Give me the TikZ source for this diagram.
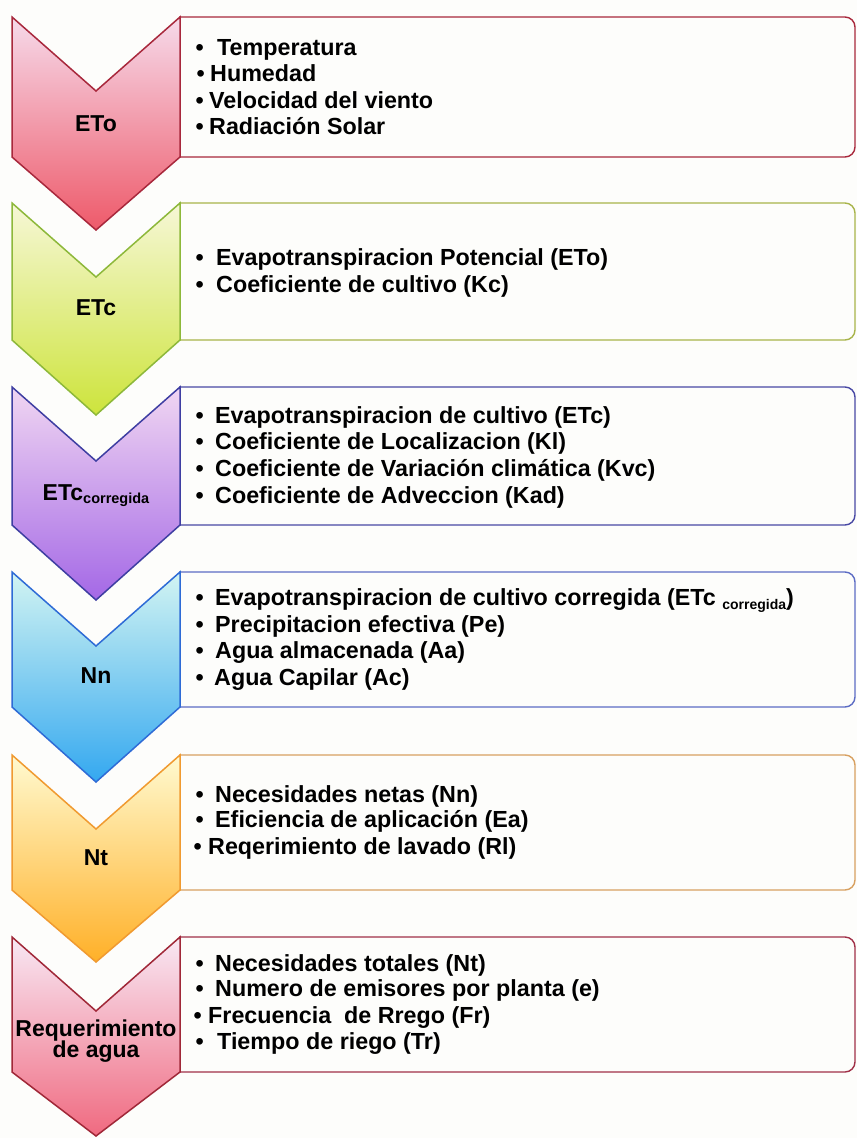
\documentclass[tikz,border=0pt]{standalone}
\usepackage{fontspec}
\setmainfont{Liberation Sans}
\definecolor{bgc}{HTML}{FDFDFB}
\definecolor{cAb}{HTML}{A8283C}\definecolor{cAt}{HTML}{F6DAEA}\definecolor{cAm}{HTML}{F2A8C0}\definecolor{cAe}{HTML}{EE5A6A}
\definecolor{cBb}{HTML}{8DB83A}\definecolor{cBt}{HTML}{F6F7D6}\definecolor{cBm}{HTML}{EEF3A0}\definecolor{cBe}{HTML}{CDE43C}
\definecolor{cCb}{HTML}{3E3EA2}\definecolor{cCt}{HTML}{F0D6F2}\definecolor{cCm}{HTML}{E8B2EC}\definecolor{cCe}{HTML}{A468E6}
\definecolor{cDb}{HTML}{2E6BD6}\definecolor{cDt}{HTML}{D2F4F2}\definecolor{cDm}{HTML}{8CE0F0}\definecolor{cDe}{HTML}{34A8F0}
\definecolor{cEb}{HTML}{F09A30}\definecolor{cEt}{HTML}{FFFAD0}\definecolor{cEm}{HTML}{FFE27A}\definecolor{cEe}{HTML}{FFB028}
\definecolor{cFb}{HTML}{A02838}\definecolor{cFt}{HTML}{F8E8F4}\definecolor{cFm}{HTML}{F4B8CC}\definecolor{cFe}{HTML}{F06A80}
\definecolor{bxA}{HTML}{A8283C}\definecolor{bxB}{HTML}{A8B44A}\definecolor{bxC}{HTML}{4848A4}
\definecolor{bxD}{HTML}{5C6CC4}\definecolor{bxE}{HTML}{D8A060}\definecolor{bxF}{HTML}{A03048}
\newcommand\chev[7]{% top, sidebottom, tip, border, topc, midc, botc
  \path[draw=#4, line width=1.5pt, top color=#5, middle color=#6, bottom color=#7, line join=miter]
    (12,#1) -- (96,#1+74) -- (180,#1) -- (180,#2) -- (96,#3) -- (12,#2) -- cycle;}
\newcommand\boxr[3]{% top, bottom, border
  \draw[#3, line width=1.4pt] (500,#1) -- (180,#1) -- (180,#2) -- (500,#2)
    [rounded corners=10pt] -- (855,#2) -- (855,#1) -- cycle;}
\newcommand\itm[5]{% name, bullet x, text x, baseline, text
  \node[bul] (#1b) at (#2,#4) {•};
  \node[txt] (#1) at (#3,#4) {#5};}
\begin{document}
\begin{tikzpicture}[x=1pt,y=-1pt,
  txt/.style={anchor=base west, inner sep=0pt, font=\bfseries\fontsize{23.3}{26}\selectfont},
  bul/.style={anchor=base west, inner sep=0pt, font=\bfseries\fontsize{23.3}{26}\selectfont},
  lab/.style={anchor=base, inner sep=0pt, font=\bfseries\fontsize{23}{26}\selectfont}]
\fill[bgc] (0,0) rectangle (857,1138);
\useasboundingbox (0,0) rectangle (857,1138);
% boxes
\boxr{17}{157}{bxA}
\boxr{203}{340}{bxB}
\boxr{387}{525}{bxC}
\boxr{572}{707}{bxD}
\boxr{755}{890}{bxE}
\boxr{937}{1072}{bxF}
% chevrons
\chev{17}{157}{230}{cAb}{cAt}{cAm}{cAe}
\chev{203}{340}{415}{cBb}{cBt}{cBm}{cBe}
\chev{387}{525}{600}{cCb}{cCt}{cCm}{cCe}
\chev{572}{707}{782}{cDb}{cDt}{cDm}{cDe}
\chev{755}{890}{962}{cEb}{cEt}{cEm}{cEe}
\chev{937}{1072}{1136}{cFb}{cFt}{cFm}{cFe}
% chevron labels
\node[lab] (lA) at (96,131) {ETo};
\node[lab] (lB) at (96,315) {ETc};
\node[lab] (lC) at (96,500) {ETc\raisebox{-3pt}{\fontsize{14.5}{14}\selectfont corregida}};
\node[lab] (lD) at (96,683) {Nn};
\node[lab] (lE) at (96,865) {Nt};
\node[lab] (lF1) at (96,1036) {Requerimiento};
\node[lab] (lF2) at (96,1057) {de agua};
% box 1
\itm{a1}{195.5}{217}{55}{Temperatura}
\itm{a2}{196.5}{210}{81}{Humedad}
\itm{a3}{195.5}{209}{108}{Velocidad del viento}
\itm{a4}{195.5}{209}{134}{Radiación Solar}
% box 2
\itm{b1}{195.5}{216}{265}{Evapotranspiracion Potencial (ETo)}
\itm{b2}{195.5}{216}{292}{Coeficiente de cultivo (Kc)}
% box 3
\itm{c1}{195.5}{215}{423}{Evapotranspiracion de cultivo (ETc)}
\itm{c2}{195.5}{215}{449}{Coeficiente de Localizacion (Kl)}
\itm{c3}{195.5}{215}{476}{Coeficiente de Variación climática (Kvc)}
\itm{c4}{195.5}{215}{503}{Coeficiente de Adveccion (Kad)}
% box 4
\itm{d1}{195.5}{215}{605}{Evapotranspiracion de cultivo corregida (ETc \raisebox{-4pt}{\fontsize{14}{14}\selectfont corregida})}
\itm{d2}{195.5}{215}{632}{Precipitacion efectiva (Pe)}
\itm{d3}{195.5}{215}{658}{Agua almacenada (Aa)}
\itm{d4}{195.5}{214}{685}{Agua Capilar (Ac)}
% box 5
\itm{e1}{195.5}{215}{802}{Necesidades netas (Nn)}
\itm{e2}{195.5}{215}{827}{Eficiencia de aplicación (Ea)}
\itm{e3}{193.5}{208}{854}{Reqerimiento de lavado (Rl)}
% box 6
\itm{f1}{195.5}{215}{971}{Necesidades totales (Nt)}
\itm{f2}{195.5}{215}{996}{Numero de emisores por planta (e)}
\itm{f3}{193.5}{208}{1023}{Frecuencia\ \ de Rrego (Fr)}
\itm{f4}{195.5}{217}{1049}{Tiempo de riego (Tr)}
\end{tikzpicture}
\end{document}
